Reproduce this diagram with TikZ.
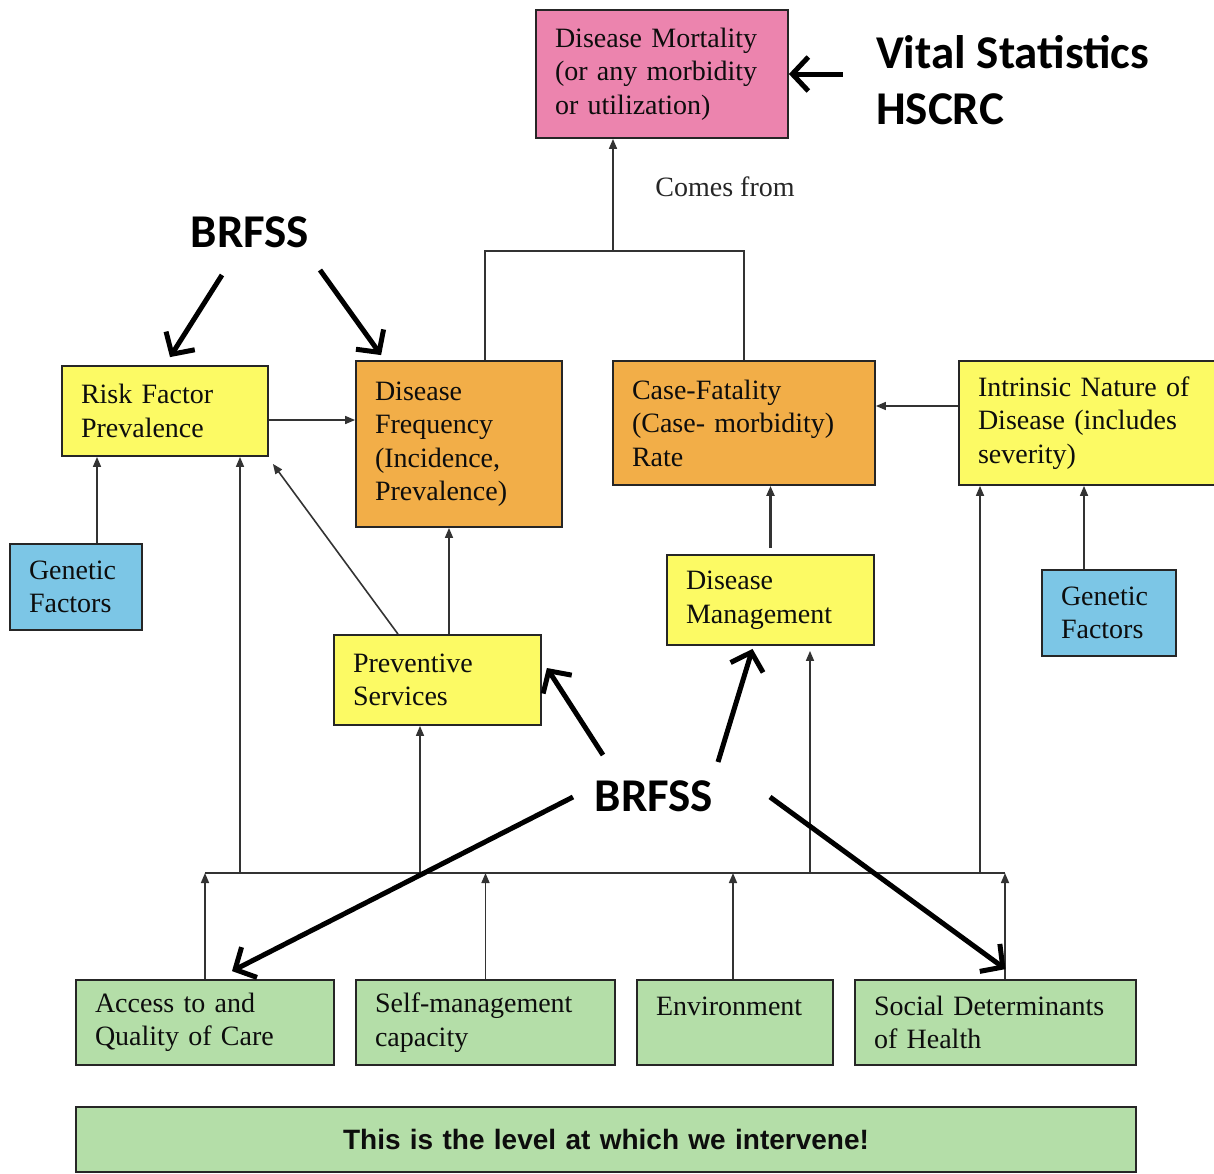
\documentclass[tikz,border=0pt]{standalone}
\usepackage{fontspec}
\setmainfont{Liberation Serif}
\newfontfamily\calloutfont{Carlito}
\newfontfamily\barfont{Liberation Sans}
\usetikzlibrary{arrows.meta}

\definecolor{mortpink}{RGB}{236,132,174}
\definecolor{boxyellow}{RGB}{252,250,100}
\definecolor{boxorange}{RGB}{242,174,72}
\definecolor{boxblue}{RGB}{124,198,230}
\definecolor{boxgreen}{RGB}{180,222,168}

\begin{document}
\begin{tikzpicture}[x=1pt, y=-1pt,
  box/.style={draw=black!85, line width=1.8pt, inner xsep=19pt, inner ysep=0pt,
    align=left, text=black!95, font=\fontsize{28}{33.5}\selectfont},
  line/.style={draw=black!80, line width=1.6pt},
  conn/.style={line, -{Triangle[length=10pt,width=8pt]}},
  callout/.style={line width=5pt, -{Straight Barb[length=16pt,width=34pt]}},
  tag/.style={inner sep=0pt, align=left, font=\calloutfont\bfseries\fontsize{47}{56}\selectfont}]
  \useasboundingbox (0,0) rectangle (1214,1173);

  % outcome
  \node[box, fill=mortpink, text width=214pt, minimum height=128pt] (mort) at (662,74)
    {Disease Mortality\\(or any morbidity\\or utilization)};
  \node[font=\fontsize{28}{33.5}\selectfont, text=black!85] (comes) at (725,187) {Comes from};

  % middle row
  \node[box, fill=boxyellow, text width=168pt, minimum height=90pt] (risk) at (165,411)
    {Risk Factor\\Prevalence};
  \node[box, fill=boxorange, text width=168pt, minimum height=166pt] (freq) at (459,444)
    {Disease\\Frequency\\(Incidence,\\Prevalence)};
  \node[box, fill=boxorange, text width=224pt, minimum height=124pt] (fatal) at (744,423)
    {Case-Fatality\\(Case- morbidity)\\Rate};
  \node[box, fill=boxyellow, text width=220pt, minimum height=124pt] (intr) at (1088,423)
    {Intrinsic Nature of\\Disease (includes\\severity)};
  \node[box, fill=boxblue, text width=94pt, minimum height=86pt] (gen1) at (76,587)
    {Genetic\\Factors};
  \node[box, fill=boxblue, text width=96pt, minimum height=86pt] (gen2) at (1109,613)
    {Genetic\\Factors};
  \node[box, fill=boxyellow, text width=169pt, minimum height=90pt] (prev) at (437.5,680)
    {Preventive\\Services};
  \node[box, fill=boxyellow, text width=169pt, minimum height=90pt] (mgmt) at (770.5,600)
    {Disease\\Management};

  % intervention level
  \node[box, fill=boxgreen, text width=220pt, minimum height=85pt] (access) at (205,1022.5)
    {Access to and\\Quality of Care};
  \node[box, fill=boxgreen, text width=221pt, minimum height=85pt] (self) at (485.5,1022.5)
    {Self-management\\capacity};
  \node[box, fill=boxgreen, text width=158pt, minimum height=85pt] (env) at (735,1022.5)
    {Environment\\~};
  \node[box, fill=boxgreen, text width=243pt, minimum height=85pt] (social) at (995.5,1022.5)
    {Social Determinants\\of Health};
  \node[box, fill=boxgreen, text width=1022pt, minimum height=65pt, align=center,
    font=\barfont\bfseries\fontsize{28}{33}\selectfont] (bar) at (606,1139.5)
    {This is the level at which we intervene!};

  % connectors
  \coordinate (join) at (613,251);
  \draw[line] ([xshift=26pt]freq.north) |- (join) -| (fatal.north);
  \draw[conn] (join) -- (join |- mort.south);
  \draw[conn] ([yshift=-9pt]risk.east) -- ([yshift=-9pt]risk.east -| freq.west);
  \draw[conn] ([yshift=17pt]intr.west) -- ([yshift=17pt]intr.west -| fatal.east);
  \draw[conn] ([xshift=21pt]gen1.north) -- ([xshift=21pt]gen1.north |- risk.south);
  \draw[conn] ([xshift=-25pt]gen2.north) -- ([xshift=-25pt]gen2.north |- intr.south);
  \draw[conn, line width=2.2pt] ([yshift=6pt]mgmt.north) -- (mgmt.north |- fatal.south);
  \draw[conn] ([xshift=11.5pt]prev.north) -- ([xshift=11.5pt]prev.north |- freq.south);
  \draw[conn] ([xshift=-39.5pt]prev.north) -- ([shift={(4,7)}]risk.south east);

  % bus
  \coordinate (busL) at (205,873);
  \coordinate (busR) at (1005,873);
  \coordinate (tapA) at (240,873);
  \coordinate (tapB) at (420,873);
  \coordinate (tapC) at (810,873);
  \coordinate (tapD) at (980,873);
  \draw[line] (busL) -- (busR);
  \draw[conn] (tapA) -- (tapA |- risk.south);
  \draw[conn] (tapB) -- (tapB |- prev.south);
  \draw[conn] (tapC) -- ([yshift=-5pt]tapC |- mgmt.south);
  \draw[conn] (tapD) -- (tapD |- intr.south);
  \draw[conn] (busL |- access.north) -- (busL);
  \draw[conn] (self.north) -- (self.north |- busL);
  \draw[conn] ([xshift=-2pt]env.north) -- ([xshift=-2pt]env.north |- busL);
  \draw[conn] (busR |- social.north) -- (busR);

  % data sources
  \node[tag, anchor=west] (vital) at (876,80) {Vital Statistics\\HSCRC};
  \node[tag] (brfssA) at (250,232) {BRFSS};
  \node[tag] (brfssB) at (654,796) {BRFSS};
  \draw[callout] ([xshift=54pt]mort.east) -- (mort.east);
  \draw[callout] ([shift={(-28,43)}]brfssA.center) -- ([shift={(5,-8)}]risk.north);
  \draw[callout] ([shift={(70,38)}]brfssA.center) -- ([shift={(26,-5)}]freq.north west);
  \draw[callout] ([shift={(-51,-41)}]brfssB.center) -- ([shift={(5,-12)}]prev.east);
  \draw[callout] ([shift={(64,-34)}]brfssB.center) -- ([shift={(-18,3)}]mgmt.south);
  \draw[callout] ([shift={(-81,1)}]brfssB.center) -- ([shift={(27,-8)}]access.north);
  \draw[callout] ([shift={(116,1)}]brfssB.center) -- ([shift={(10,-10)}]social.north);
\end{tikzpicture}
\end{document}
